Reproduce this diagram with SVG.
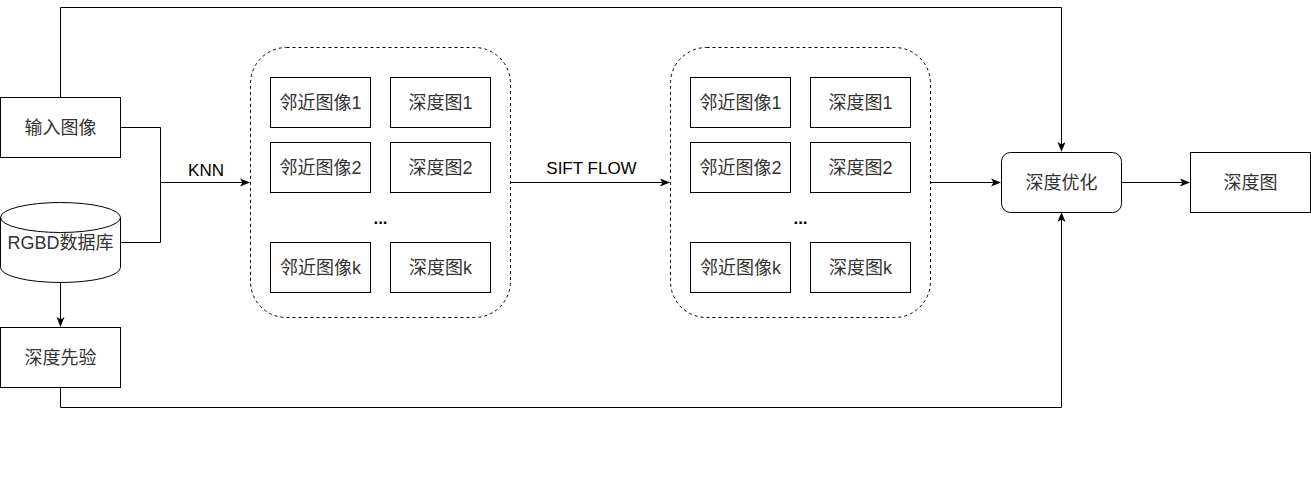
<svg xmlns="http://www.w3.org/2000/svg" width="1311" height="501" viewBox="0 0 1311 501">
<style>
.box{fill:#fff;stroke:#000;stroke-width:1}
.cont{fill:#fff;stroke:#000;stroke-width:1;stroke-dasharray:3 3}
.t{font-family:"Liberation Sans","Noto Sans CJK SC",sans-serif;font-size:18px;fill:#333;text-anchor:middle}
.lbl{font-family:"Liberation Sans","Noto Sans CJK SC",sans-serif;font-size:17px;fill:#000;text-anchor:middle}
.ln{fill:none;stroke:#000;stroke-width:1}
</style>
<defs>
<marker id="arr" viewBox="0 0 10 10" refX="9" refY="5" markerWidth="10" markerHeight="10" markerUnits="userSpaceOnUse" orient="auto">
<path d="M0,1 L10,5 L0,9 L2.5,5 Z" fill="#000"/>
</marker>
</defs>
<rect width="1311" height="501" fill="#fff"/>
<g id="connectors">
<path class="ln" d="M60.5,97 V7.5 H1061.5 V151" marker-end="url(#arr)"/>
<path class="ln" d="M120,127.5 H160.5 V182.5 H249" marker-end="url(#arr)"/>
<path class="ln" d="M120,242.5 H160.5 V182.5"/>
<path class="ln" d="M60.5,282 V326" marker-end="url(#arr)"/>
<path class="ln" d="M60.5,387 V407.5 H1061.5 V213" marker-end="url(#arr)"/>
<path class="ln" d="M510,182.5 H669" marker-end="url(#arr)"/>
<path class="ln" d="M930,182.5 H1000" marker-end="url(#arr)"/>
<path class="ln" d="M1121,182.5 H1189" marker-end="url(#arr)"/>
<text class="lbl" x="206" y="176">KNN</text>
<text class="lbl" x="591.5" y="174">SIFT FLOW</text>
</g>
<g id="input">
<rect class="box" x="0.5" y="97.5" width="120" height="60"/>
<text class="t" x="60.5" y="133.5">输入图像</text>
</g>
<g id="rgbd">
<path class="box" d="M0.5,217.5 A60,15 0 0 1 120.5,217.5 V267.5 A60,15 0 0 1 0.5,267.5 Z"/>
<path class="ln" d="M0.5,217.5 A60,15 0 0 0 120.5,217.5"/>
<text class="t" x="60.5" y="248.5">RGBD数据库</text>
</g>
<g id="prior">
<rect class="box" x="0.5" y="327.5" width="120" height="60"/>
<text class="t" x="60.5" y="363.5">深度先验</text>
</g>
<g id="group1">
<rect class="cont" x="250.5" y="47.5" width="260" height="270" rx="36" ry="36"/>
<rect class="box" x="270.5" y="77.5" width="100" height="50"/>
<text class="t" x="320.5" y="108.5">邻近图像1</text>
<rect class="box" x="390.5" y="77.5" width="100" height="50"/>
<text class="t" x="440.5" y="108.5">深度图1</text>
<rect class="box" x="270.5" y="142.5" width="100" height="50"/>
<text class="t" x="320.5" y="173.5">邻近图像2</text>
<rect class="box" x="390.5" y="142.5" width="100" height="50"/>
<text class="t" x="440.5" y="173.5">深度图2</text>
<text class="lbl" x="380.5" y="224" font-weight="bold">...</text>
<rect class="box" x="270.5" y="242.5" width="100" height="50"/>
<text class="t" x="320.5" y="273.5">邻近图像k</text>
<rect class="box" x="390.5" y="242.5" width="100" height="50"/>
<text class="t" x="440.5" y="273.5">深度图k</text>
</g>
<g id="group2">
<rect class="cont" x="670.5" y="47.5" width="260" height="270" rx="36" ry="36"/>
<rect class="box" x="690.5" y="77.5" width="100" height="50"/>
<text class="t" x="740.5" y="108.5">邻近图像1</text>
<rect class="box" x="810.5" y="77.5" width="100" height="50"/>
<text class="t" x="860.5" y="108.5">深度图1</text>
<rect class="box" x="690.5" y="142.5" width="100" height="50"/>
<text class="t" x="740.5" y="173.5">邻近图像2</text>
<rect class="box" x="810.5" y="142.5" width="100" height="50"/>
<text class="t" x="860.5" y="173.5">深度图2</text>
<text class="lbl" x="800.5" y="224" font-weight="bold">...</text>
<rect class="box" x="690.5" y="242.5" width="100" height="50"/>
<text class="t" x="740.5" y="273.5">邻近图像k</text>
<rect class="box" x="810.5" y="242.5" width="100" height="50"/>
<text class="t" x="860.5" y="273.5">深度图k</text>
</g>
<g id="optimize">
<rect class="box" x="1001.5" y="152.5" width="120" height="60" rx="9" ry="9"/>
<text class="t" x="1061.5" y="188.5">深度优化</text>
</g>
<g id="output">
<rect class="box" x="1190.5" y="152.5" width="120" height="60"/>
<text class="t" x="1250.5" y="188.5">深度图</text>
</g>
</svg>
